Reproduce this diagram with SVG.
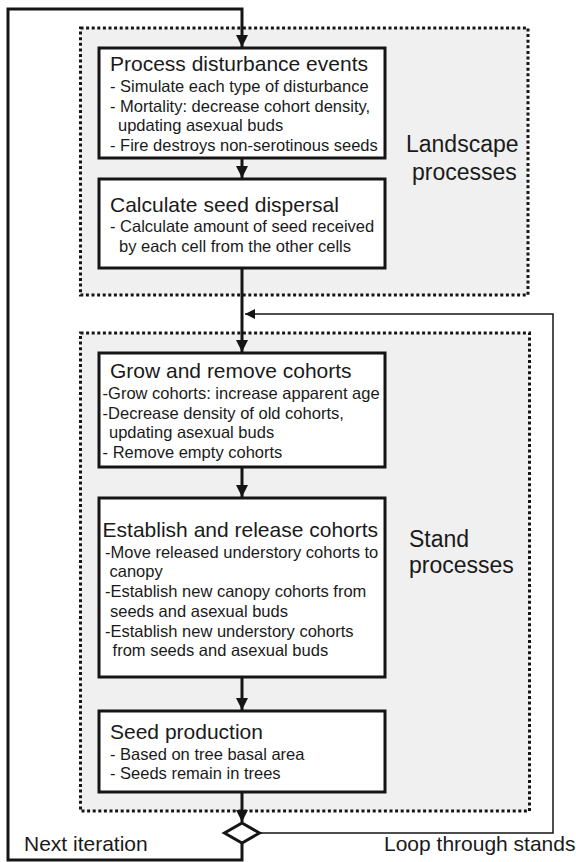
<svg xmlns="http://www.w3.org/2000/svg" width="576" height="862" viewBox="0 0 576 862">
<style>
.bg{fill:#ffffff}
.grp{fill:#f0f0f0;stroke:#151515;stroke-width:3;stroke-dasharray:3 2.6}
.box{fill:#ffffff;stroke:#151515;stroke-width:3}
.t{font-family:"Liberation Sans",Arial,sans-serif;fill:#1a1a1a}
.ti{font-size:21px}
.b{font-size:16.5px}
.side{font-size:23px}
.lab{font-size:21px}
.thick{fill:none;stroke:#151515;stroke-width:3}
.thin{fill:none;stroke:#151515;stroke-width:1.5}
</style>
<defs>
<marker id="ah" markerUnits="userSpaceOnUse" markerWidth="14" markerHeight="14" refX="12" refY="6" orient="auto">
<path d="M0,0 L12,6 L0,12 Z" fill="#151515"/>
</marker>
<marker id="ahs" markerUnits="userSpaceOnUse" markerWidth="12" markerHeight="12" refX="10" refY="5" orient="auto">
<path d="M0,0 L10,5 L0,10 Z" fill="#151515"/>
</marker>
</defs>
<rect class="bg" x="0" y="0" width="576" height="862"/>

<g id="landscape-group">
<rect class="grp" x="80.5" y="28" width="447.5" height="267"/>
<text class="t side" x="406" y="152">Landscape</text>
<text class="t side" x="412" y="180">processes</text>
</g>
<g id="stand-group">
<rect class="grp" x="80.5" y="333" width="449" height="478"/>
<text class="t side" x="409" y="547">Stand</text>
<text class="t side" x="409" y="573">processes</text>
</g>

<g id="connectors">
<path class="thick" d="M242,843 V860 H8 V9 H242 V47" marker-end="url(#ah)"/>
<path class="thick" d="M242,158 V178" marker-end="url(#ah)"/>
<path class="thick" d="M242,268 V352" marker-end="url(#ah)"/>
<path class="thick" d="M242,467 V497" marker-end="url(#ah)"/>
<path class="thick" d="M242,677 V710" marker-end="url(#ah)"/>
<path class="thick" d="M242,792 V822" marker-end="url(#ah)"/>
<path class="thin" d="M259.5,833 H553 V314 H245" marker-end="url(#ahs)"/>
</g>

<g id="box1">
<rect class="box" x="99" y="48" width="286" height="110"/>
<text class="t ti" x="110" y="71">Process disturbance events</text>
<text class="t b" x="110" y="92">- Simulate each type of disturbance</text>
<text class="t b" x="110" y="112">- Mortality: decrease cohort density,</text>
<text class="t b" x="118" y="131">updating asexual buds</text>
<text class="t b" x="110" y="151">- Fire destroys non-serotinous seeds</text>
</g>

<g id="box2">
<rect class="box" x="99" y="179" width="286" height="89"/>
<text class="t ti" x="110" y="212">Calculate seed dispersal</text>
<text class="t b" x="110" y="232">- Calculate amount of seed received</text>
<text class="t b" x="119" y="252">by each cell from the other cells</text>
</g>

<g id="box3">
<rect class="box" x="99" y="353" width="286" height="114"/>
<text class="t ti" x="110" y="378">Grow and remove cohorts</text>
<text class="t b" x="102.6" y="399">-Grow cohorts: increase apparent age</text>
<text class="t b" x="102.6" y="419">-Decrease density of old cohorts,</text>
<text class="t b" x="109" y="438">updating asexual buds</text>
<text class="t b" x="102.6" y="458">- Remove empty cohorts</text>
</g>

<g id="box4">
<rect class="box" x="99" y="498" width="286" height="179"/>
<text class="t ti" x="102.6" y="537">Establish and release cohorts</text>
<text class="t b" x="105" y="558">-Move released understory cohorts to</text>
<text class="t b" x="109.5" y="577">canopy</text>
<text class="t b" x="105" y="597">-Establish new canopy cohorts from</text>
<text class="t b" x="110" y="617">seeds and asexual buds</text>
<text class="t b" x="105" y="637">-Establish new understory cohorts</text>
<text class="t b" x="112.6" y="656">from seeds and asexual buds</text>
</g>

<g id="box5">
<rect class="box" x="99" y="711" width="286" height="81"/>
<text class="t ti" x="110" y="739">Seed production</text>
<text class="t b" x="110" y="760">-  Based on tree basal area</text>
<text class="t b" x="110" y="779">- Seeds remain in trees</text>
</g>

<g id="decision">
<polygon class="box" points="242,823 259.5,833 242,843 224.5,833"/>
</g>

<g id="labels">
<text class="t lab" x="24" y="851">Next iteration</text>
<text class="t lab" x="384" y="851">Loop through stands</text>
</g>
</svg>
